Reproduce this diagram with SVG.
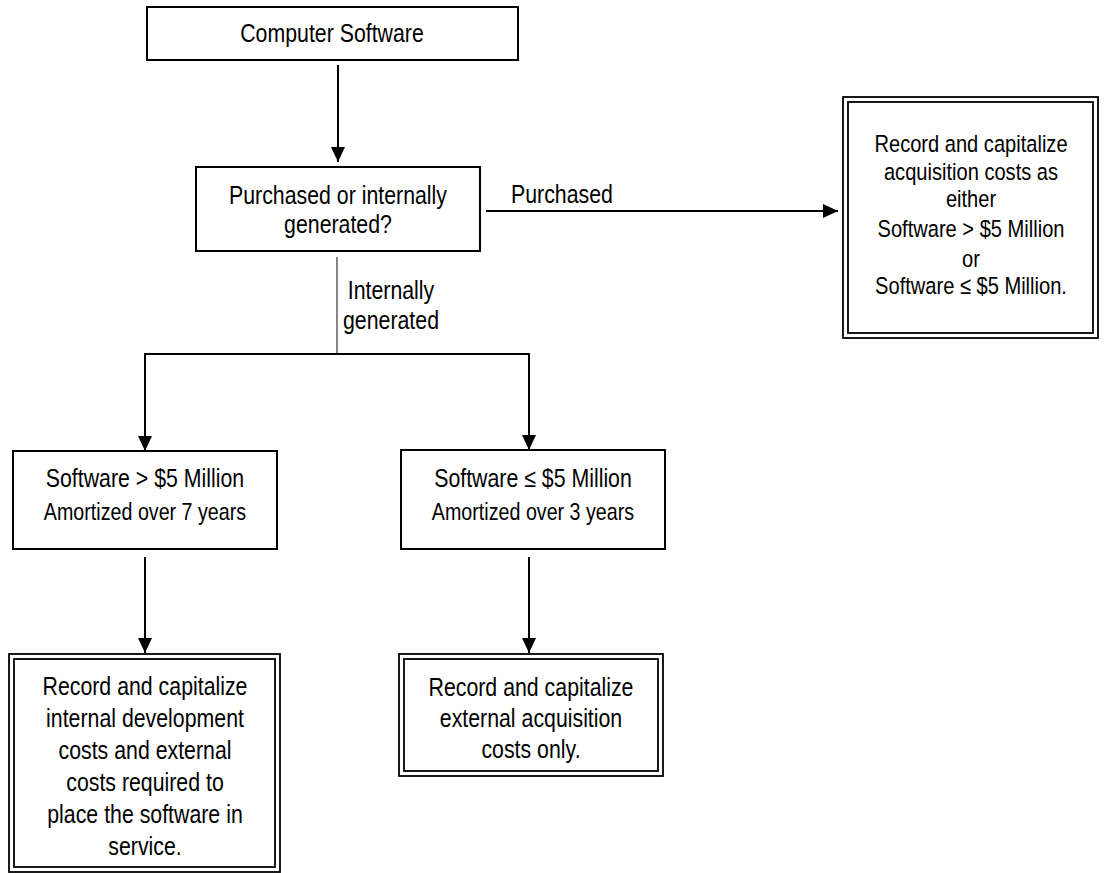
<svg xmlns="http://www.w3.org/2000/svg" width="1104" height="873" viewBox="0 0 1104 873">
<defs>
<marker id="ah" markerUnits="userSpaceOnUse" markerWidth="16" markerHeight="16" refX="15" refY="7" orient="auto"><path d="M0,0 L15,7 L0,14 Z" fill="#000"/></marker>
</defs>
<style>
.box{fill:#fff;stroke:#000;stroke-width:2}
.dbl{fill:none;stroke:#000;stroke-width:1.8}
text{font-family:"Liberation Sans",Arial,sans-serif;font-size:26px;fill:#000;text-anchor:middle}
.s{font-size:24px}
.r{font-size:24.5px}
.ln{stroke:#000;stroke-width:2;fill:none}
.thin{stroke:#444;stroke-width:1.3;fill:none}
</style>
<rect width="1104" height="873" fill="#fff"/>
<g id="connectors">
<path class="ln" d="M338,65 V162" marker-end="url(#ah)"/>
<path class="ln" d="M486,211 H838" marker-end="url(#ah)"/>
<path class="thin" d="M337,257 V354"/>
<path class="ln" d="M144,354 H530"/>
<path class="ln" d="M145,354 V451" marker-end="url(#ah)"/>
<path class="ln" d="M529,354 V450" marker-end="url(#ah)"/>
<path class="ln" d="M145,557 V653" marker-end="url(#ah)"/>
<path class="ln" d="M529,557 V653" marker-end="url(#ah)"/>
<g transform="translate(511,0) scale(0.82,1)"><text x="0" y="203" style="text-anchor:start">Purchased</text></g>
<g transform="translate(391,0) scale(0.82,1)">
<text x="0" y="299">Internally</text>
<text x="0" y="329">generated</text>
</g>
</g>
<g id="n1">
<rect class="box" x="147" y="7" width="371" height="53"/>
<g transform="translate(332,0) scale(0.82,1)"><text x="0" y="42">Computer Software</text></g>
</g>
<g id="n2">
<rect class="box" x="196" y="167" width="284" height="84"/>
<g transform="translate(338,0) scale(0.82,1)">
<text x="0" y="204">Purchased or internally</text>
<text x="0" y="233">generated?</text>
</g>
</g>
<g id="n3">
<rect class="dbl" x="843" y="97" width="255" height="241"/>
<rect class="dbl" x="848" y="102" width="245" height="231"/>
<g transform="translate(971,0) scale(0.82,1)">
<text class="r" x="0" y="152">Record and capitalize</text>
<text class="r" x="0" y="180">acquisition costs as</text>
<text class="r" x="0" y="207">either</text>
<text class="r" x="0" y="237">Software &gt; $5 Million</text>
<text class="r" x="0" y="267">or</text>
<text class="r" x="0" y="294">Software ≤ $5 Million.</text>
</g>
</g>
<g id="n4">
<rect class="box" x="13" y="451" width="264" height="98"/>
<g transform="translate(145,0) scale(0.82,1)">
<text x="0" y="487">Software &gt; $5 Million</text>
<text class="s" x="0" y="520">Amortized over 7 years</text>
</g>
</g>
<g id="n5">
<rect class="box" x="401" y="450" width="264" height="99"/>
<g transform="translate(533,0) scale(0.82,1)">
<text x="0" y="487">Software ≤ $5 Million</text>
<text class="s" x="0" y="520">Amortized over 3 years</text>
</g>
</g>
<g id="n6">
<rect class="dbl" x="9" y="654" width="271" height="218"/>
<rect class="dbl" x="14" y="659" width="261" height="208"/>
<g transform="translate(145,0) scale(0.82,1)">
<text x="0" y="695">Record and capitalize</text>
<text x="0" y="727">internal development</text>
<text x="0" y="759">costs and external</text>
<text x="0" y="791">costs required to</text>
<text x="0" y="823">place the software in</text>
<text x="0" y="855">service.</text>
</g>
</g>
<g id="n7">
<rect class="dbl" x="399" y="654" width="264" height="122"/>
<rect class="dbl" x="404" y="659" width="254" height="112"/>
<g transform="translate(531,0) scale(0.82,1)">
<text x="0" y="696">Record and capitalize</text>
<text x="0" y="727">external acquisition</text>
<text x="0" y="758">costs only.</text>
</g>
</g>
</svg>
